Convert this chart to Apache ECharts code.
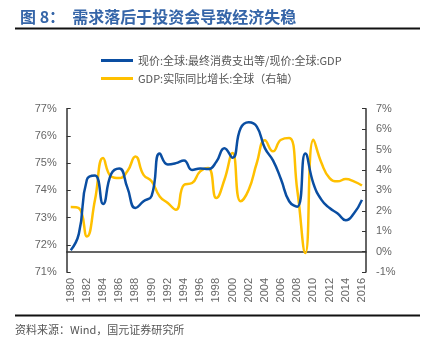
<!DOCTYPE html>
<html>
<head>
<meta charset="utf-8">
<script src="https://cdn.jsdelivr.net/npm/echarts@6/dist/echarts.min.js"></script>
<style>
  html, body { margin: 0; padding: 0; background: #fff; }
  #chart { width: 428px; height: 339px; }
</style>
</head>
<body>
<div id="chart"></div>
<script>
// Years on the category axis
const years = [];
for (let y = 1980; y <= 2016; y++) years.push(String(y));

// Final consumption expenditure share of GDP, world, current prices (%)
const consumptionShare = [
  71.8, 72.4, 74.4, 74.55, 73.5, 74.6, 74.8, 74.1, 73.35, 73.6,
  73.8, 75.35, 74.95, 75.0, 75.1, 74.75, 74.8, 74.78, 75.05, 75.55,
  75.2, 76.28, 76.5, 76.34, 75.55, 75.1, 74.4, 73.6, 73.4, 75.35,
  74.25, 73.65, 73.35, 73.15, 72.9, 73.15, 73.65
];

// World real GDP growth, y/y (%) — right axis
const gdpGrowth = [
  2.18, 2.13, 0.74, 2.54, 4.58, 3.68, 3.6, 3.93, 4.66, 3.76,
  3.44, 2.7, 2.38, 2.05, 3.27, 3.36, 3.93, 4.09, 2.62, 3.52,
  4.83, 2.46, 3.03, 4.34, 5.45, 4.91, 5.48, 5.56, 3.03, -0.07,
  5.48, 4.34, 3.6, 3.44, 3.55, 3.44, 3.24
];

const seriesNames = [
  '现价:全球:最终消费支出等/现价:全球:GDP',
  'GDP:实际同比增长:全球（右轴）'
];

const chart = echarts.init(document.getElementById('chart'));
const axisColor = '#333';
const labelColor = '#666';
const font = 'Liberation Sans, Arial, sans-serif';

chart.setOption({
  animation: false,
  backgroundColor: '#fff',
  title: {
    text: '图 8：  需求落后于投资会导致经济失稳',
    left: 15,
    top: 4,
    textStyle: {
      color: '#3565a8',
      fontSize: 16,
      fontWeight: 'bold',
      fontFamily: 'Noto Sans CJK SC, sans-serif'
    }
  },
  graphic: [
    { type: 'rect', shape: { x: 15, y: 27.5, width: 405, height: 2 }, style: { fill: '#111' } },
    { type: 'rect', shape: { x: 15, y: 314.5, width: 405, height: 2 }, style: { fill: '#111' } },
    {
      type: 'text', left: 15, top: 324,
      style: {
        text: '资料来源：Wind，国元证券研究所',
        fill: '#555',
        fontSize: 11,
        fontFamily: 'Noto Sans CJK SC, sans-serif'
      }
    }
  ],
  legend: {
    orient: 'vertical',
    left: 96,
    top: 50,
    itemGap: 7,
    itemWidth: 32,
    itemHeight: 12,
    icon: 'path://M0,0 L32,0 L32,3 L0,3 Z',
    textStyle: {
      color: '#555',
      fontSize: 11,
      fontFamily: 'Noto Sans CJK SC, sans-serif'
    },
    data: seriesNames
  },
  grid: { left: 66.7, right: 62, top: 108.7, bottom: 67 },
  xAxis: {
    type: 'category',
    data: years,
    boundaryGap: true,
    axisLine: { lineStyle: { color: axisColor, width: 1.5 } },
    axisTick: { inside: true, interval: 1, length: 4, lineStyle: { color: axisColor } },
    axisLabel: {
      interval: 1,
      rotate: 90,
      color: labelColor,
      fontSize: 11,
      fontFamily: font,
      margin: 6
    },
    splitLine: { show: false }
  },
  yAxis: [
    {
      type: 'value',
      min: 71, max: 77, interval: 1,
      axisLine: { show: true, lineStyle: { color: axisColor, width: 1.5 } },
      axisTick: { show: true, inside: true, length: 4, lineStyle: { color: axisColor } },
      axisLabel: { formatter: '{value}%', color: labelColor, fontSize: 11, fontFamily: font, margin: 10 },
      splitLine: { show: false }
    },
    {
      type: 'value',
      min: -1, max: 7, interval: 1,
      axisLine: { show: true, lineStyle: { color: axisColor, width: 1.5 } },
      axisTick: { show: true, inside: true, length: 4, lineStyle: { color: axisColor } },
      axisLabel: { formatter: '{value}%', color: labelColor, fontSize: 11, fontFamily: font, margin: 10 },
      splitLine: { show: false }
    }
  ],
  series: [
    {
      name: seriesNames[0],
      type: 'line',
      data: consumptionShare,
      yAxisIndex: 0,
      smooth: 0.5,
      symbol: 'none',
      lineStyle: { color: '#0a4ea2', width: 2.5 },
      itemStyle: { color: '#0a4ea2' },
      z: 3
    },
    {
      name: seriesNames[1],
      type: 'line',
      data: gdpGrowth,
      yAxisIndex: 1,
      smooth: 0.5,
      symbol: 'none',
      lineStyle: { color: '#ffc000', width: 2.5 },
      itemStyle: { color: '#ffc000' },
      z: 2
    }
  ]
});
</script>
</body>
</html>
